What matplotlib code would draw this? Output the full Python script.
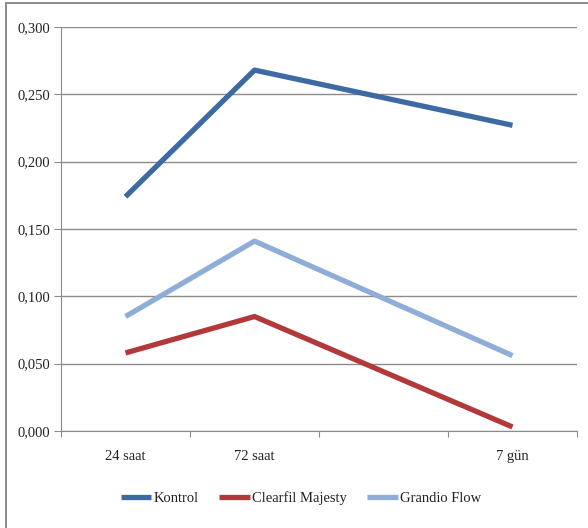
import matplotlib
matplotlib.use("Agg")
import matplotlib.pyplot as plt
from matplotlib.patches import Rectangle

days = [1, 3, 7]
xlabels = ["24 saat", "72 saat", "7 gün"]
kontrol = [0.174, 0.268, 0.227]
clearfil = [0.058, 0.085, 0.003]
grandio = [0.085, 0.141, 0.056]
series_names = ["Kontrol", "Clearfil Majesty", "Grandio Flow"]
colors = ["#3E6AA3", "#B2393A", "#90ADD8"]

plt.rcParams['font.family'] = ['Liberation Serif', 'DejaVu Serif']
TXT = "#222222"
FS = 10.5

fig = plt.figure(figsize=(5.88, 5.28), dpi=100)
fig.patches.append(Rectangle((6/588, -0.05), 1.2, 1 - 3/528 + 0.05, transform=fig.transFigure,
                             fill=False, edgecolor="#8a8a8a", linewidth=1.4))
ax = fig.add_axes([61/588, 1 - 431/528, (577-61)/588, (431-27)/528])

for vals, name, c in zip([kontrol, clearfil, grandio], series_names, colors):
    ax.plot(days, vals, color=c, lw=3.8, label=name, solid_capstyle='butt')

ax.set_xlim(0, 8)
ax.set_ylim(0, 0.3)
yt = [0, 0.05, 0.1, 0.15, 0.2, 0.25, 0.3]
ax.set_yticks(yt)
ax.set_yticklabels([f"{v:.3f}".replace(".", ",") for v in yt], fontsize=FS, color=TXT)
ax.yaxis.grid(True, color="#8c8c8c", lw=1.0)
ax.set_axisbelow(True)
ax.set_xticks([0, 2, 4, 6, 8])
ax.set_xticklabels([])
ax.tick_params(axis='x', length=4, color="#8c8c8c", direction='out')
ax.tick_params(axis='y', length=5, color="#8c8c8c", pad=3)
for s in ["top", "right"]:
    ax.spines[s].set_visible(False)
for s in ["left", "bottom"]:
    ax.spines[s].set_color("#8c8c8c")
for d, lab in zip(days, xlabels):
    ax.text(d, -0.019, lab, ha='center', va='center', fontsize=FS, color=TXT,
            transform=ax.transData)

leg = ax.legend(loc='center', bbox_to_anchor=(0.465, -0.166), ncol=3, frameon=False,
                fontsize=FS, handlelength=2.1, handletextpad=0.15, columnspacing=1.4)
for t in leg.get_texts():
    t.set_color(TXT)

fig.savefig("out.png", dpi=100)
